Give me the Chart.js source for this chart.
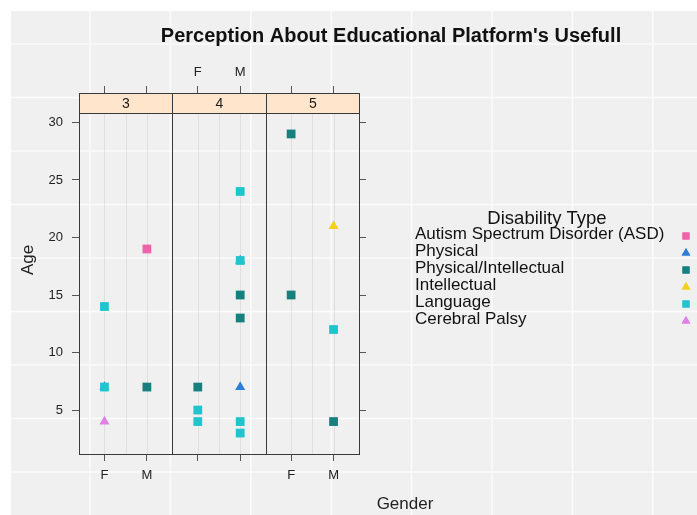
<!DOCTYPE html>
<html>
<head>
<meta charset="utf-8">
<title>Perception About Educational Platform's Usefull</title>
<script src="https://cdn.jsdelivr.net/npm/chart.js@4.4.1/dist/chart.umd.min.js"></script>
<style>
  html, body { margin: 0; padding: 0; background: #ffffff; }
  canvas { display: block; }
</style>
</head>
<body>
<canvas id="chart" width="697" height="515"></canvas>
<script>
// Categories
const panels = ['3', '4', '5'];
const genders = ['F', 'M'];
const ageTicks = [5, 10, 15, 20, 25, 30];

// Disability types (legend order)
const typeNames = ['Autism Spectrum Disorder (ASD)', 'Physical', 'Physical/Intellectual', 'Intellectual', 'Language', 'Cerebral Palsy'];
const typeColors = ['#f062aa', '#2e7fd8', '#15807d', '#f4d01e', '#1ec5cd', '#e07fe4'];
const typeShapes = ['rect', 'triangle', 'rect', 'triangle', 'rect', 'triangle'];

// Observations per type: [panel, gender, age]
const asd = [['3', 'M', 19]];
const physical = [['3', 'F', 7], ['4', 'M', 18], ['4', 'M', 7]];
const physIntellectual = [['3', 'M', 7], ['4', 'F', 7], ['4', 'M', 15], ['4', 'M', 13], ['5', 'F', 29], ['5', 'F', 15], ['5', 'M', 4]];
const intellectual = [['5', 'M', 21]];
const language = [['3', 'F', 14], ['3', 'F', 7], ['4', 'F', 5], ['4', 'F', 4], ['4', 'M', 24], ['4', 'M', 18], ['4', 'M', 4], ['4', 'M', 3], ['5', 'M', 12]];
const cerebralPalsy = [['3', 'F', 4]];
const typeData = [asd, physical, physIntellectual, intellectual, language, cerebralPalsy];

// ---- layout ----
const FONT = '"Liberation Sans", Arial, Helvetica, sans-serif';
const PANEL_UNITS = 2.2;          // each panel spans 0.4 .. 2.6 in factor units
const FIRST_LEVEL = 0.6;
const PLOT_TOP = 93, PLOT_BOTTOM = 454, PLOT_LEFT = 79, PLOT_RIGHT = 359;
const STRIP_PX = 20;
const CANVAS_W = 697, CANVAS_H = 515;

function xPos(panel, gender) {
  return panels.indexOf(panel) * PANEL_UNITS + FIRST_LEVEL + genders.indexOf(gender);
}

// y range padded by 7% on each side; the strip sits above the data region
const allAges = typeData.flat().map(r => r[2]);
const ageMin = Math.min(...allAges), ageMax = Math.max(...allAges);
const yLo = ageMin - 0.07 * (ageMax - ageMin);
const yHi = ageMax + 0.07 * (ageMax - ageMin);
const dataPx = (PLOT_BOTTOM - PLOT_TOP) - STRIP_PX;
const yTop = yHi + (yHi - yLo) * STRIP_PX / dataPx;

const tickPositions = [];
panels.forEach(p => genders.forEach(g => tickPositions.push(xPos(p, g))));

const datasets = typeNames.map((name, i) => ({
  label: name,
  data: typeData[i].map(r => ({ x: xPos(r[0], r[1]), y: r[2] })),
  pointStyle: typeShapes[i],
  pointRadius: typeShapes[i] === 'rect' ? 6.2 : 5.8,
  pointHoverRadius: 6,
  backgroundColor: typeColors[i],
  borderColor: typeColors[i],
  borderWidth: 0,
  showLine: false,
  order: -i,
  xAxisID: 'x',
  yAxisID: 'y'
}));

// Figure background with its light grid
const backgroundPlugin = {
  id: 'figureBackground',
  beforeDraw(chart) {
    const c = chart.ctx;
    c.save();
    c.fillStyle = '#ffffff';
    c.fillRect(0, 0, CANVAS_W, CANVAS_H);
    c.fillStyle = '#f0f0f0';
    c.fillRect(11, 11, CANVAS_W - 11, CANVAS_H - 11);
    c.strokeStyle = '#fbfbfb';
    c.lineWidth = 1.6;
    for (let k = 0; k < 8; k++) {
      const x = 90 + k * 80.4;
      c.beginPath(); c.moveTo(x, 11); c.lineTo(x, CANVAS_H); c.stroke();
    }
    for (let k = 0; k < 9; k++) {
      const y = 44 + k * 53.5;
      c.beginPath(); c.moveTo(11, y); c.lineTo(CANVAS_W, y); c.stroke();
    }
    c.restore();
  },
  beforeDatasetsDraw(chart) {
    // faint panel grid
    const c = chart.ctx, xs = chart.scales.x, ys = chart.scales.y;
    const top = ys.getPixelForValue(yHi), bottom = chart.chartArea.bottom;
    c.save();
    c.strokeStyle = 'rgba(0,0,0,0.07)';
    c.lineWidth = 1;
    panels.forEach((p, pi) => {
      [0, 0.5, 1].forEach(d => {
        const x = Math.round(xs.getPixelForValue(pi * PANEL_UNITS + FIRST_LEVEL + d)) + 0.5;
        c.beginPath(); c.moveTo(x, top); c.lineTo(x, bottom); c.stroke();
      });
    });
    c.restore();
  }
};

// Panels, strips, titles and key
const panelPlugin = {
  id: 'panelsAndKey',
  afterDraw(chart) {
    const c = chart.ctx, xs = chart.scales.x, ys = chart.scales.y;
    const area = chart.chartArea;
    const stripBottom = Math.round(ys.getPixelForValue(yHi)) + 0.5;
    const top = Math.round(area.top) + 0.5, bottom = Math.round(area.bottom) + 0.5;
    c.save();
    panels.forEach((p, pi) => {
      const l = Math.round(xs.getPixelForValue(pi * PANEL_UNITS)) + 0.5;
      const r = Math.round(xs.getPixelForValue((pi + 1) * PANEL_UNITS)) + 0.5;
      c.fillStyle = '#ffe5cc';
      c.fillRect(l, top, r - l, stripBottom - top);
      c.strokeStyle = '#3a3a3a';
      c.lineWidth = 1;
      c.strokeRect(l, top, r - l, stripBottom - top);
      c.strokeRect(l, top, r - l, bottom - top);
      c.fillStyle = '#1a1a1a';
      c.font = '14px ' + FONT;
      c.textAlign = 'center';
      c.textBaseline = 'middle';
      c.fillText(p, (l + r) / 2, (top + stripBottom) / 2 + 1);
    });

    // main title
    c.fillStyle = '#111111';
    c.font = 'bold 20px ' + FONT;
    c.textAlign = 'center';
    c.textBaseline = 'alphabetic';
    c.fillText("Perception About Educational Platform's Usefull", 391, 42);

    // axis titles
    c.font = '17px ' + FONT;
    c.fillStyle = '#222222';
    c.fillText('Gender', 405, 509);
    c.save();
    c.translate(33, 260);
    c.rotate(-Math.PI / 2);
    c.textBaseline = 'alphabetic';
    c.fillText('Age', 0, 0);
    c.restore();

    // key
    c.font = '18.5px ' + FONT;
    c.fillStyle = '#111111';
    c.textAlign = 'center';
    c.fillText('Disability Type', 547, 224);
    c.font = '17px ' + FONT;
    c.textAlign = 'left';
    typeNames.forEach((name, i) => {
      const y = 239 + 17 * i;
      c.fillStyle = '#111111';
      c.fillText(name, 415, y);
      c.fillStyle = typeColors[i];
      Chart.helpers.drawPoint(c, {
        pointStyle: typeShapes[i],
        radius: typeShapes[i] === 'rect' ? 5 : 5,
        rotation: 0,
        borderWidth: 0
      }, 686, y - 3);
      c.fill();
    });
    c.restore();
  }
};

const tickFont = { family: FONT, size: 13 };
const tickGrid = { drawOnChartArea: false, drawTicks: true, tickLength: 7, color: '#555555', lineWidth: 1 };

new Chart(document.getElementById('chart'), {
  type: 'scatter',
  data: { datasets },
  options: {
    responsive: false,
    animation: false,
    devicePixelRatio: 1,
    layout: { padding: { left: 0, right: CANVAS_W - PLOT_RIGHT - 10, top: 0, bottom: 0 } },
    plugins: {
      legend: { display: false },
      tooltip: { enabled: false },
      title: { display: false }
    },
    scales: {
      x: {
        type: 'linear', position: 'bottom',
        min: 0, max: panels.length * PANEL_UNITS,
        afterBuildTicks: s => { s.ticks = tickPositions.map(v => ({ value: v })); },
        afterFit: s => { s.height = CANVAS_H - PLOT_BOTTOM; },
        ticks: {
          autoSkip: false, maxRotation: 0, minRotation: 0, padding: 7,
          font: tickFont, color: '#222222',
          callback: (v, i) => (Math.floor(i / 2) % 2 === 0 ? genders[i % 2] : '')
        },
        grid: tickGrid,
        border: { display: false }
      },
      x2: {
        type: 'linear', position: 'top',
        min: 0, max: panels.length * PANEL_UNITS,
        afterBuildTicks: s => { s.ticks = tickPositions.map(v => ({ value: v })); },
        afterFit: s => { s.height = PLOT_TOP; },
        ticks: {
          autoSkip: false, maxRotation: 0, minRotation: 0, padding: 6,
          font: tickFont, color: '#222222',
          callback: (v, i) => (Math.floor(i / 2) % 2 === 1 ? genders[i % 2] : '')
        },
        grid: tickGrid,
        border: { display: false }
      },
      y: {
        type: 'linear', position: 'left',
        min: yLo, max: yTop,
        afterBuildTicks: s => { s.ticks = ageTicks.map(v => ({ value: v })); },
        afterFit: s => { s.width = PLOT_LEFT; },
        ticks: { padding: 9, font: tickFont, color: '#222222', callback: v => String(v) },
        grid: tickGrid,
        border: { display: false }
      },
      y2: {
        type: 'linear', position: 'right',
        min: yLo, max: yTop,
        afterBuildTicks: s => { s.ticks = ageTicks.map(v => ({ value: v })); },
        afterFit: s => { s.width = 10; },
        ticks: { display: false },
        grid: tickGrid,
        border: { display: false }
      }
    }
  },
  plugins: [backgroundPlugin, panelPlugin]
});
</script>
</body>
</html>
